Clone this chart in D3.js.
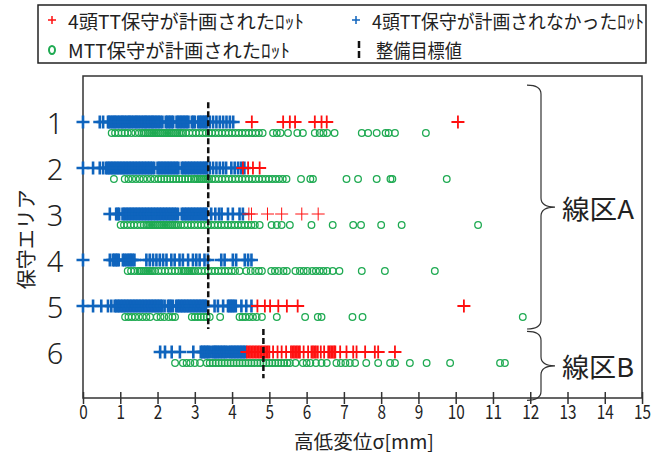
<!DOCTYPE html>
<html>
<head>
<meta charset="utf-8">
<script src="https://cdn.jsdelivr.net/npm/d3@7"></script>
<style>
  body { margin: 0; background: #fff; }
</style>
</head>
<body>
<div id="chart"></div>
<script>
// areas (保守エリア)
const areas = [1, 2, 3, 4, 5, 6];
const xTicks = d3.range(0, 16);

// lots where 4頭TT maintenance was NOT planned (blue +)
const noPlanLots = [
  [0.00, 0.45, 0.54, 0.67, 0.70, 0.74, 0.78, 0.82, 0.85, 0.89, 0.93, 0.97, 1.01, 1.05, 1.08, 1.12, 1.16, 1.20, 1.24, 1.27, 1.31, 1.35, 1.39, 1.43, 1.46, 1.50, 1.54, 1.58, 1.62, 1.66, 1.69, 1.73, 1.77, 1.81, 1.85, 1.88, 1.92, 1.96, 2.00, 2.04, 2.08, 2.13, 2.22, 2.26, 2.30, 2.34, 2.38, 2.42, 2.51, 2.55, 2.59, 2.63, 2.67, 2.71, 2.75, 2.79, 2.83, 2.92, 2.96, 3.00, 3.09, 3.13, 3.17, 3.21, 3.25, 3.29, 3.32, 3.40, 3.49, 3.58, 3.67, 3.76, 3.85, 3.94, 4.03],
  [0.00, 0.27, 0.45, 0.54, 0.62, 0.66, 0.70, 0.74, 0.78, 0.82, 0.86, 0.90, 0.94, 0.98, 1.02, 1.06, 1.10, 1.14, 1.18, 1.22, 1.26, 1.30, 1.34, 1.38, 1.42, 1.46, 1.50, 1.54, 1.58, 1.62, 1.66, 1.70, 1.74, 1.78, 1.82, 1.86, 1.91, 2.00, 2.04, 2.08, 2.12, 2.16, 2.20, 2.24, 2.28, 2.32, 2.36, 2.40, 2.44, 2.48, 2.52, 2.56, 2.65, 2.69, 2.73, 2.77, 2.81, 2.85, 2.89, 2.93, 2.97, 3.01, 3.05, 3.09, 3.13, 3.17, 3.21, 3.25, 3.29, 3.32, 3.40, 3.49, 3.58, 3.67, 3.76, 3.84, 3.98, 4.07, 4.16, 4.24, 4.33],
  [0.72, 0.89, 0.93, 0.97, 1.06, 1.10, 1.14, 1.18, 1.22, 1.26, 1.30, 1.34, 1.38, 1.42, 1.46, 1.50, 1.54, 1.58, 1.62, 1.66, 1.70, 1.74, 1.78, 1.82, 1.86, 1.90, 1.94, 1.98, 2.02, 2.06, 2.10, 2.14, 2.18, 2.22, 2.26, 2.30, 2.34, 2.38, 2.42, 2.46, 2.50, 2.55, 2.65, 2.69, 2.73, 2.77, 2.81, 2.85, 2.89, 2.93, 2.97, 3.01, 3.05, 3.09, 3.13, 3.17, 3.21, 3.25, 3.29, 3.32, 3.44, 3.55, 3.65, 3.72, 3.89, 4.02, 4.20, 4.29],
  [0.00, 0.72, 0.80, 0.84, 0.88, 0.92, 0.96, 1.07, 1.11, 1.16, 1.21, 1.25, 1.29, 1.33, 1.38, 1.70, 1.79, 1.88, 1.97, 2.06, 2.15, 2.24, 2.37, 2.46, 2.59, 2.68, 2.82, 2.95, 3.04, 3.13, 3.26, 3.35, 3.71, 3.80, 4.02, 4.11, 4.34, 4.43, 4.52],
  [0.00, 0.27, 0.49, 0.67, 0.76, 0.85, 0.89, 0.93, 0.97, 1.01, 1.05, 1.09, 1.13, 1.17, 1.21, 1.25, 1.29, 1.33, 1.37, 1.41, 1.45, 1.49, 1.53, 1.57, 1.61, 1.65, 1.69, 1.73, 1.77, 1.81, 1.85, 1.89, 1.93, 1.97, 2.01, 2.05, 2.09, 2.13, 2.19, 2.28, 2.32, 2.36, 2.41, 2.50, 2.54, 2.58, 2.62, 2.66, 2.70, 2.74, 2.78, 2.82, 2.86, 2.90, 2.94, 2.98, 3.02, 3.06, 3.10, 3.14, 3.18, 3.22, 3.26, 3.30, 3.53, 3.62, 3.76, 3.89, 3.93, 3.97, 4.01, 4.05, 4.10, 4.25, 4.38, 4.52],
  [2.07, 2.20, 2.38, 2.60, 2.96, 3.16, 3.20, 3.24, 3.28, 3.32, 3.36, 3.40, 3.47, 3.51, 3.55, 3.58, 3.62, 3.66, 3.70, 3.74, 3.78, 3.82, 3.86, 3.92, 3.96, 4.00, 4.04, 4.08, 4.12, 4.16, 4.20, 4.24, 4.28, 4.32, 4.36]
];

// lots where 4頭TT maintenance was planned (red +)
const planLots = [
  [4.53, 5.37, 5.55, 5.69, 6.22, 6.40, 6.54, 10.06],
  [4.29, 4.43, 4.56, 4.74],
  [4.45, 4.52, 4.95, 5.33, 5.87, 6.31],
  [],
  [4.68, 4.88, 5.02, 5.24, 5.47, 5.76, 10.22],
  [4.40, 4.44, 4.48, 4.52, 4.56, 4.60, 4.64, 4.68, 4.72, 4.76, 4.80, 4.84, 4.88, 4.92, 4.96, 5.00, 5.10, 5.22, 5.33, 5.45, 5.58, 5.62, 5.66, 5.70, 5.74, 5.78, 5.82, 5.92, 6.04, 6.13, 6.17, 6.21, 6.25, 6.30, 6.38, 6.47, 6.58, 6.62, 6.66, 6.70, 6.74, 6.77, 6.90, 7.07, 7.25, 7.34, 7.57, 7.83, 7.92, 8.37]
];

// lots where MTT maintenance was planned (green o)
const mttLots = [
  [0.77, 0.86, 0.95, 1.04, 1.12, 1.20, 1.30, 1.40, 1.50, 1.58, 1.63, 1.68, 1.73, 1.78, 1.83, 1.88, 1.93, 1.98, 2.03, 2.08, 2.13, 2.18, 2.23, 2.28, 2.33, 2.38, 2.43, 2.48, 2.53, 2.58, 2.63, 2.68, 2.76, 2.85, 2.94, 3.03, 3.12, 3.21, 3.30, 3.38, 3.46, 3.55, 3.64, 3.73, 3.82, 3.91, 4.00, 4.09, 4.18, 4.27, 4.36, 4.45, 4.54, 4.63, 4.72, 4.82, 5.10, 5.20, 5.30, 5.50, 5.75, 5.90, 6.22, 6.35, 6.45, 6.55, 6.75, 7.48, 7.65, 7.88, 8.12, 8.20, 8.37, 9.20],
  [0.83, 1.12, 1.22, 1.32, 1.42, 1.52, 1.62, 1.72, 1.82, 1.92, 2.02, 2.10, 2.18, 2.26, 2.34, 2.42, 2.50, 2.58, 2.66, 2.74, 2.82, 2.90, 2.98, 3.03, 3.08, 3.13, 3.18, 3.23, 3.28, 3.33, 3.38, 3.46, 3.55, 3.64, 3.73, 3.82, 3.91, 4.00, 4.09, 4.18, 4.27, 4.36, 4.45, 4.54, 4.63, 4.72, 4.81, 4.90, 4.99, 5.08, 5.17, 5.26, 5.36, 5.46, 5.85, 6.10, 6.17, 7.07, 7.38, 7.88, 8.25, 8.30, 9.76],
  [1.01, 1.10, 1.19, 1.28, 1.37, 1.46, 1.55, 1.63, 1.70, 1.75, 1.80, 1.85, 1.90, 1.95, 2.00, 2.05, 2.10, 2.15, 2.20, 2.25, 2.30, 2.35, 2.40, 2.45, 2.50, 2.55, 2.63, 2.72, 2.81, 2.90, 2.99, 3.08, 3.17, 3.26, 3.35, 3.44, 3.53, 3.62, 3.71, 3.80, 3.89, 3.98, 4.07, 4.16, 4.25, 4.34, 4.43, 4.52, 4.61, 4.74, 5.06, 5.20, 5.33, 5.55, 6.13, 6.70, 7.25, 7.46, 8.00, 8.55, 10.60],
  [1.20, 1.29, 1.38, 1.47, 1.52, 1.57, 1.62, 1.67, 1.72, 1.77, 1.82, 1.87, 1.93, 2.02, 2.11, 2.20, 2.29, 2.38, 2.47, 2.56, 2.65, 2.70, 2.75, 2.80, 2.85, 2.90, 2.95, 3.00, 3.09, 3.18, 3.27, 3.36, 3.45, 3.54, 3.63, 3.72, 3.81, 3.90, 3.99, 4.08, 4.20, 4.38, 4.50, 4.62, 4.72, 4.80, 5.05, 5.15, 5.25, 5.38, 5.47, 5.70, 5.82, 5.92, 6.02, 6.15, 6.25, 6.35, 6.45, 6.55, 6.70, 6.88, 7.48, 8.10, 9.44],
  [1.13, 1.22, 1.31, 1.40, 1.50, 1.60, 1.70, 1.80, 1.98, 2.08, 2.18, 2.30, 2.40, 2.47, 2.92, 3.00, 3.08, 3.16, 3.24, 3.32, 3.40, 3.68, 4.20, 4.28, 4.36, 4.46, 4.56, 4.66, 4.80, 5.20, 5.96, 6.30, 6.40, 7.23, 7.50, 11.80],
  [2.47, 2.68, 2.78, 2.88, 3.00, 3.14, 3.32, 3.40, 3.48, 3.56, 3.64, 3.72, 3.80, 3.88, 3.96, 4.04, 4.12, 4.20, 4.28, 4.36, 4.44, 4.52, 4.60, 4.68, 4.76, 4.84, 4.92, 5.00, 5.08, 5.16, 5.24, 5.32, 5.40, 5.48, 5.55, 5.70, 5.90, 6.00, 6.10, 6.25, 6.40, 6.54, 6.80, 6.92, 7.04, 7.16, 7.30, 7.60, 7.92, 8.24, 8.37, 8.77, 9.22, 9.85, 11.19, 11.32]
];

// 整備目標値 (target value) and the area span it covers
const targetValues = [3.36, 4.84];
const targetSpans = [[0.57, 5.5], [5.5, 6.57]];

// 線区 groups
const lineGroups = ["線区A", "線区B"];
const groupSpans = [[0.2, 5.5], [5.55, 7.05]];

const legendLabels = ["4頭TT保守が計画されたﾛｯﾄ", "4頭TT保守が計画されなかったﾛｯﾄ", "MTT保守が計画されたﾛｯﾄ", "整備目標値"];

/**
 * Proportions
 */
let svgWidth = 668;
let svgHeight = 456;

let plotLeft = 83;
let plotRight = 642;
let plotTop = 76;
let plotBottom = 398;

let blue = "#0f64bd";
let red = "#ff1010";
let green = "#1faa52";
let jpFont = "'Noto Sans CJK JP', sans-serif";

let circleOffset = 11;

const x = d3.scaleLinear().domain([0, 15]).range([plotLeft, plotLeft + 15 * 37.27]);
const y = d3.scaleLinear().domain([0, 7]).range([plotTop, plotBottom]);

const svg = d3.select("#chart")
  .append("svg")
  .attr("width", svgWidth)
  .attr("height", svgHeight);

function crossPath(s) {
  return `M${-s},0H${s}M0,${-s}V${s}`;
}

function drawFrame() {
  svg.append("rect")
    .attr("x", plotLeft)
    .attr("y", plotTop)
    .attr("width", plotRight - plotLeft)
    .attr("height", plotBottom - plotTop)
    .attr("fill", "none")
    .attr("stroke", "#333")
    .attr("stroke-width", 1.5);
}

function drawAxes() {
  const xAxis = d3.axisBottom(x)
    .tickValues(xTicks)
    .tickSize(6)
    .tickPadding(1);
  const g = svg.append("g")
    .attr("transform", `translate(0, ${plotBottom})`)
    .call(xAxis);
  g.select(".domain").remove();
  g.selectAll(".tick line")
    .attr("y1", -6)
    .attr("stroke", "#333")
    .attr("stroke-width", 1.5);
  // narrow digits like the original
  g.selectAll(".tick text")
    .attr("font-family", jpFont)
    .attr("font-size", 19)
    .attr("textLength", (d) => String(d).length * 8.5)
    .attr("lengthAdjust", "spacingAndGlyphs")
    .attr("fill", "#222");

  svg.append("text")
    .attr("x", 364)
    .attr("y", 449)
    .attr("text-anchor", "middle")
    .attr("font-family", jpFont)
    .attr("font-size", 19)
    .attr("fill", "#222")
    .attr("textLength", 140)
    .attr("lengthAdjust", "spacingAndGlyphs")
    .text("高低変位σ[mm]");

  svg.selectAll(".areaLabel")
    .data(areas)
    .enter()
    .append("text")
    .attr("class", "areaLabel")
    .attr("x", 55)
    .attr("y", (d) => y(d))
    .attr("text-anchor", "middle")
    .attr("dominant-baseline", "central")
    .attr("font-family", "'Noto Sans', sans-serif")
    .attr("font-weight", 300)
    .attr("font-size", 29)
    .attr("fill", "#222")
    .text((d) => d);

  svg.append("text")
    .attr("transform", `translate(25, ${y(3.55)}) rotate(-90)`)
    .attr("text-anchor", "middle")
    .attr("dominant-baseline", "central")
    .attr("font-family", jpFont)
    .attr("font-size", 20)
    .attr("fill", "#222")
    .text("保守エリア");
}

function drawPoints() {
  // blue first, red on top
  areas.forEach((a, i) => {
    svg.append("g")
      .selectAll("path")
      .data(noPlanLots[i])
      .enter()
      .append("path")
      .attr("transform", (d) => `translate(${x(d)}, ${y(a)})`)
      .attr("d", crossPath(6.5))
      .attr("stroke", blue)
      .attr("stroke-width", 2.6);
  });
  areas.forEach((a, i) => {
    svg.append("g")
      .selectAll("path")
      .data(planLots[i])
      .enter()
      .append("path")
      .attr("transform", (d) => `translate(${x(d)}, ${y(a)})`)
      .attr("d", crossPath(6.5))
      .attr("stroke", red)
      .attr("stroke-width", a == 3 ? 1 : 1.8);
  });
  areas.forEach((a, i) => {
    svg.append("g")
      .selectAll("circle")
      .data(mttLots[i])
      .enter()
      .append("circle")
      .attr("cx", (d) => x(d))
      .attr("cy", y(a) + circleOffset)
      .attr("r", 3.3)
      .attr("fill", "none")
      .attr("stroke", green)
      .attr("stroke-width", 1.3);
  });
}

function drawTargets() {
  svg.selectAll(".targetLine")
    .data(targetValues)
    .enter()
    .append("line")
    .attr("class", "targetLine")
    .attr("x1", (d) => x(d))
    .attr("x2", (d) => x(d))
    .attr("y1", (_, i) => y(targetSpans[i][0]))
    .attr("y2", (_, i) => y(targetSpans[i][1]))
    .attr("stroke", "#111")
    .attr("stroke-width", 2.5)
    .attr("stroke-dasharray", "6,3");
}

function drawBraces() {
  let bx = 541;
  let hook = 14;
  lineGroups.forEach((name, i) => {
    let y0 = y(groupSpans[i][0]);
    let y1 = y(groupSpans[i][1]);
    let ym = (y0 + y1) / 2;
    let r = Math.min(9, (y1 - y0) / 6);
    svg.append("path")
      .attr("d", `M${bx - hook},${y0} Q${bx},${y0} ${bx},${y0 + r} L${bx},${ym - r} Q${bx},${ym} ${bx + 14},${ym} Q${bx},${ym} ${bx},${ym + r} L${bx},${y1 - r} Q${bx},${y1} ${bx - hook},${y1}`)
      .attr("fill", "none")
      .attr("stroke", "#333")
      .attr("stroke-width", 1.2);
    svg.append("text")
      .attr("x", 562)
      .attr("y", ym)
      .attr("dominant-baseline", "central")
      .attr("font-family", jpFont)
      .attr("font-size", 26)
      .attr("fill", "#222")
      .attr("textLength", 72)
      .attr("lengthAdjust", "spacingAndGlyphs")
      .text(name);
  });
}

function drawLegend() {
  const lg = svg.append("g");
  lg.append("rect")
    .attr("x", 38)
    .attr("y", 5)
    .attr("width", 608)
    .attr("height", 58)
    .attr("fill", "#fff")
    .attr("stroke", "#222")
    .attr("stroke-width", 1.5);

  let rows = [20, 49];
  let items = [
    { x: 52, y: rows[0], len: 236 },
    { x: 356, y: rows[0], len: 272 },
    { x: 52, y: rows[1], len: 222 },
    { x: 359, y: rows[1], len: 86 }
  ];
  // markers
  lg.append("path")
    .attr("transform", `translate(${items[0].x}, ${items[0].y})`)
    .attr("d", crossPath(4))
    .attr("stroke", red)
    .attr("stroke-width", 1.5);
  lg.append("path")
    .attr("transform", `translate(${items[1].x}, ${items[1].y})`)
    .attr("d", crossPath(4))
    .attr("stroke", blue)
    .attr("stroke-width", 1.5);
  lg.append("ellipse")
    .attr("cx", items[2].x)
    .attr("cy", items[2].y + 1)
    .attr("rx", 3)
    .attr("ry", 4)
    .attr("fill", "none")
    .attr("stroke", green)
    .attr("stroke-width", 2);
  lg.append("line")
    .attr("x1", items[3].x)
    .attr("x2", items[3].x)
    .attr("y1", items[3].y - 8)
    .attr("y2", items[3].y + 9)
    .attr("stroke", "#111")
    .attr("stroke-width", 2.5)
    .attr("stroke-dasharray", "7,3");

  lg.selectAll(".legendText")
    .data(legendLabels)
    .enter()
    .append("text")
    .attr("class", "legendText")
    .attr("x", (_, i) => items[i].x + (i == 3 ? 17 : 16))
    .attr("y", (_, i) => items[i].y)
    .attr("dominant-baseline", "central")
    .attr("font-family", jpFont)
    .attr("font-size", 19)
    .attr("fill", "#222")
    .attr("textLength", (_, i) => items[i].len)
    .attr("lengthAdjust", "spacingAndGlyphs")
    .text((d) => d);
}

drawFrame();
drawPoints();
drawTargets();
drawAxes();
drawBraces();
drawLegend();
</script>
</body>
</html>
